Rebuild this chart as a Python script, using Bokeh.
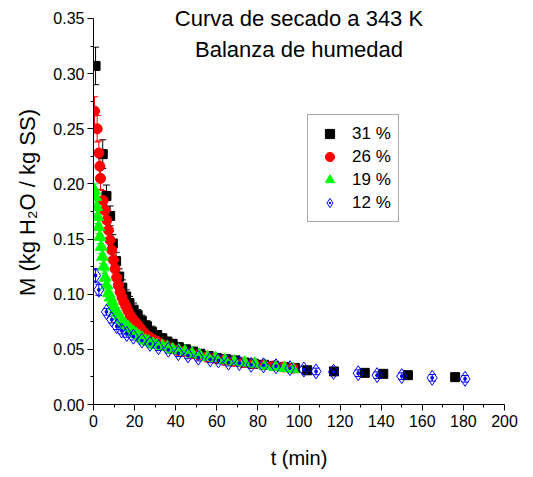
from bokeh.plotting import figure
from bokeh.models import (Range1d, FixedTicker, PrintfTickFormatter, Whisker, TeeHead,
                          ColumnDataSource, Legend, LegendItem, Label)
from bokeh.embed import file_html
from bokeh.resources import INLINE

# ---- data ----
t31 = [1, 4.5, 6.3, 8.1, 9.4, 11, 12.5, 14, 15.9, 17.5, 19.5, 21.5, 23.5, 26, 28.5, 31, 33.5, 36, 38.5, 41.5,
       45, 48.5, 52, 56, 60, 64.5, 69, 73.5, 78, 83, 88, 93, 98, 104, 117, 132, 141, 153, 176]
M31 = [0.307, 0.227, 0.189, 0.171, 0.146, 0.130, 0.116, 0.106, 0.098, 0.092, 0.086, 0.081, 0.076, 0.071, 0.066,
       0.063, 0.060, 0.057, 0.055, 0.052, 0.050, 0.048, 0.046, 0.044, 0.042, 0.041, 0.040, 0.038, 0.037, 0.036,
       0.035, 0.034, 0.033, 0.031, 0.030, 0.0287, 0.0278, 0.0266, 0.0248]
e31 = [0.017, 0.013, 0.010, 0.009, 0.008, 0.008, 0.007, 0.007, 0.006, 0.006, 0.006, 0.005, 0.005, 0.005, 0.005,
       0.004, 0.004, 0.004, 0.004, 0.003, 0.003, 0.003, 0.003, 0.003, 0.003, 0.003, 0.003, 0.003, 0.003, 0.003,
       0.003, 0.003, 0.003, 0.003, 0.0, 0.0, 0.0, 0.0, 0.0]

t26 = [0.5, 1.8, 2.6, 3.1, 3.4, 4.7, 5.5, 6.5, 7.3, 8.1, 8.9, 9.7, 10.5, 11.3, 12.1, 13, 13.9, 14.8, 15.8, 16.8,
       17.9, 19, 20.2, 21.5, 22.8, 24.2, 25.7, 27.3, 29, 31, 33, 35.5, 38, 41, 44, 47.5, 51, 55, 59, 63.5,
       68, 73, 78, 83, 88, 92.5, 97]
M26 = [0.266, 0.250, 0.228, 0.216, 0.205, 0.185, 0.176, 0.167, 0.158, 0.149, 0.140, 0.131, 0.123, 0.115, 0.108,
       0.102, 0.097, 0.093, 0.089, 0.085, 0.081, 0.078, 0.075, 0.072, 0.069, 0.066, 0.063, 0.061, 0.059, 0.057,
       0.055, 0.053, 0.051, 0.049, 0.048, 0.046, 0.045, 0.043, 0.042, 0.040, 0.039, 0.038, 0.037, 0.036, 0.035,
       0.034, 0.033]
e26 = [0.013, 0.012, 0.011, 0.011, 0.010, 0.009, 0.009, 0.008, 0.008, 0.008, 0.007, 0.007, 0.007, 0.006, 0.006,
       0.006, 0.005, 0.005, 0.005, 0.005, 0.004, 0.004, 0.004, 0.004, 0.004, 0.004, 0.004, 0.004, 0.004, 0.004,
       0.003, 0.003, 0.003, 0.003, 0.003, 0.003, 0.003, 0.003, 0.003, 0.003, 0.003, 0.003, 0.003, 0.003, 0.003,
       0.003, 0.003]

t19 = [0.5, 1.1, 1.6, 2.1, 2.6, 3.2, 3.8, 4.4, 5.0, 5.7, 6.5, 7.3, 8.1, 9.0, 9.8, 10.6, 11.5, 12.5, 13.5, 14.6,
       15.7, 16.9, 18.1, 19.4, 20.8, 22.2, 23.7, 25.3, 27, 29, 31, 33.5, 36, 38.5, 41.5, 44.5, 48, 51.5, 55.5, 59.5,
       64, 68.5, 73.5, 78.5, 83.5, 88.5, 93, 97]
M19 = [0.194, 0.188, 0.179, 0.170, 0.161, 0.152, 0.143, 0.134, 0.125, 0.115, 0.108, 0.101, 0.097, 0.093, 0.089,
       0.086, 0.083, 0.080, 0.077, 0.074, 0.072, 0.070, 0.068, 0.066, 0.064, 0.062, 0.060, 0.058, 0.057, 0.055,
       0.054, 0.053, 0.052, 0.050, 0.049, 0.048, 0.046, 0.045, 0.043, 0.042, 0.040, 0.039, 0.038, 0.037, 0.035,
       0.034, 0.033, 0.032]
e19 = [0.006] * 10 + [0.005] * 10 + [0.004] * 10 + [0.003] * 18

t12 = [1, 2.6, 6.3, 8.9, 11.3, 13.7, 16.2, 19.4, 23.5, 27.5, 31.6, 36.4, 41.3, 46, 51, 56.8, 60.8, 65.7, 71, 76.7,
       82.7, 88.8, 95.6, 102.4, 108.3, 116.8, 128.8, 138, 150, 164.8, 180.8]
M12 = [0.117, 0.104, 0.084, 0.077, 0.071, 0.067, 0.064, 0.0615, 0.058, 0.055, 0.052, 0.0496, 0.0465, 0.0445, 0.0425,
       0.041, 0.040, 0.038, 0.0375, 0.036, 0.0355, 0.0347, 0.033, 0.0317, 0.030, 0.0296, 0.0284, 0.0266, 0.0257,
       0.0242, 0.0233]
e12 = [0.006, 0.005] + [0.003] * 29

labels = ["31 %", "26 %", "19 %", "12 %"]
x_ticks = [0, 20, 40, 60, 80, 100, 120, 140, 160, 180, 200]
y_ticks = [0.0, 0.05, 0.10, 0.15, 0.20, 0.25, 0.30, 0.35]
title1 = "Curva de secado a 343 K"
title2 = "Balanza de humedad"

FONT = "Liberation Sans"

# y range extends a little above 0.35 so that the title (drawn inside the frame) is not clipped;
# the axis itself is bounded to 0..0.35
p = figure(width=525, height=473, output_backend="svg", toolbar_location=None,
           x_range=Range1d(0, 200), y_range=Range1d(0, 0.3663),
           min_border_left=93, min_border_right=21, min_border_top=0, min_border_bottom=69)
p.outline_line_color = None
p.grid.visible = False
p.background_fill_color = "white"

p.xaxis.ticker = FixedTicker(ticks=x_ticks, minor_ticks=list(range(10, 200, 20)))
p.yaxis.ticker = FixedTicker(ticks=y_ticks, minor_ticks=[0.025, 0.075, 0.125, 0.175, 0.225, 0.275, 0.325])
p.yaxis.formatter = PrintfTickFormatter(format="%.2f")
p.yaxis.bounds = (0, 0.35)
for ax in (p.xaxis[0], p.yaxis[0]):
    ax.axis_line_color = "black"
    ax.axis_line_width = 1
    ax.major_tick_in = 0
    ax.major_tick_out = 6
    ax.minor_tick_in = 0
    ax.minor_tick_out = 3
    ax.major_tick_line_color = "black"
    ax.minor_tick_line_color = "black"
    ax.major_label_text_font = FONT
    ax.major_label_text_font_size = "16px"
    ax.major_label_text_color = "black"
    ax.axis_label_text_font = FONT
    ax.axis_label_text_font_style = "normal"
    ax.axis_label_text_color = "black"
p.xaxis.axis_label = "t (min)"
p.xaxis.axis_label_text_font_size = "20px"
p.xaxis.major_label_standoff = 4
p.xaxis.axis_label_standoff = 17
p.yaxis.axis_label = "M (kg H\u2082O / kg SS)"
p.yaxis.axis_label_text_font_size = "22px"
p.yaxis.major_label_standoff = 3
p.yaxis.axis_label_standoff = 10

series = [
    (t31, M31, e31, "black", "square", 9),
    (t26, M26, e26, "red", "circle", 10),
    (t19, M19, e19, "#00ff00", "triangle", 12),
    (t12, M12, e12, "blue", "diamond_dot", 15),
]

renderers = []
for t, m, e, col, mk, sz in series:
    src = ColumnDataSource(dict(t=t, m=m,
                                up=[a + b for a, b in zip(m, e)],
                                lo=[a - b for a, b in zip(m, e)]))
    w = Whisker(source=src, base="t", upper="up", lower="lo", dimension="height",
                line_color=col, line_width=1,
                upper_head=TeeHead(size=7, line_color=col, line_width=1),
                lower_head=TeeHead(size=7, line_color=col, line_width=1))
    p.add_layout(w)
    if mk == "diamond_dot":
        r = p.scatter("t", "m", source=src, marker=mk, size=sz, line_color=col,
                      fill_color=None, line_width=1)
    else:
        r = p.scatter("t", "m", source=src, marker=mk, size=sz, line_color=col,
                      fill_color=col, line_width=1)
    renderers.append(r)

legend = Legend(items=[LegendItem(label=l, renderers=[r]) for l, r in zip(labels, renderers)],
                location=(214, 182), orientation="vertical",
                padding=7, spacing=0, margin=0,
                glyph_width=29, glyph_height=23, label_height=23, label_standoff=8,
                label_text_font=FONT, label_text_font_size="17px", label_text_color="black",
                border_line_color="#555555", border_line_width=1,
                background_fill_color="white", background_fill_alpha=1.0)
p.add_layout(legend, "center")

p.add_layout(Label(x=100, y=0.350, text=title1, text_align="center", text_baseline="alphabetic",
                   text_font=FONT, text_font_size="22px", text_color="black"))
p.add_layout(Label(x=100, y=0.3215, text=title2, text_align="center", text_baseline="alphabetic",
                   text_font=FONT, text_font_size="22px", text_color="black"))

open("out.html", "w").write(file_html(p, INLINE))
